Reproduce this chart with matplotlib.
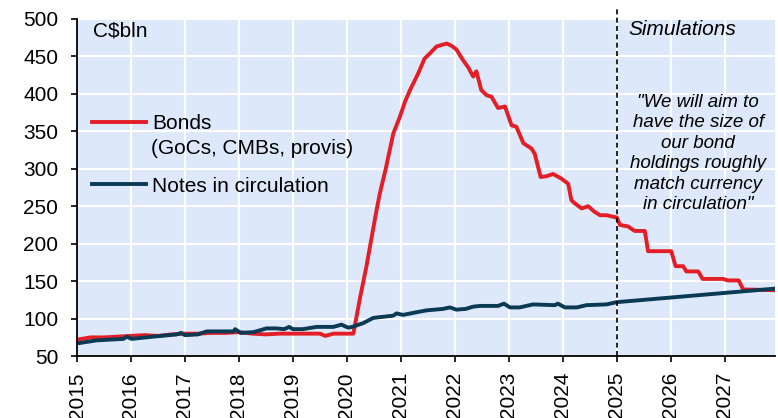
import matplotlib
matplotlib.use("Agg")
import matplotlib.pyplot as plt

plt.rcParams['font.family'] = ['Liberation Sans', 'DejaVu Sans']

# Bank of Canada holdings, C$bln
bond_t = [2015.0, 2015.25, 2015.5, 2015.75, 2016.0, 2016.25, 2016.5, 2016.75, 2017.0, 2017.25,
          2017.5, 2017.75, 2018.0, 2018.25, 2018.5, 2018.75, 2019.0, 2019.25, 2019.5, 2019.6,
          2019.75, 2020.0, 2020.12, 2020.25, 2020.36, 2020.45, 2020.55, 2020.61, 2020.72, 2020.86,
          2020.98, 2021.08, 2021.17, 2021.32, 2021.44, 2021.54, 2021.66, 2021.75, 2021.85, 2021.94,
          2022.03, 2022.15, 2022.25, 2022.34, 2022.40, 2022.49, 2022.59, 2022.68, 2022.80, 2022.93,
          2023.05, 2023.14, 2023.27, 2023.42, 2023.48, 2023.59, 2023.7, 2023.82, 2023.97, 2024.10,
          2024.16, 2024.22, 2024.35, 2024.47, 2024.58, 2024.69, 2024.81, 2024.93, 2025.0, 2025.06,
          2025.21, 2025.33, 2025.52, 2025.58, 2026.01, 2026.09, 2026.23, 2026.29, 2026.51, 2026.59,
          2026.97, 2027.06, 2027.26, 2027.34, 2027.92]
bond_v = [72, 75, 75, 76, 77, 78, 77, 79, 80, 80,
          81, 81, 82, 80, 79, 80, 80, 80, 80, 77,
          80, 80, 80, 130, 169, 205, 245, 267, 300, 347,
          369, 390, 405, 427, 447, 454, 463, 465, 467, 464,
          459, 445, 435, 423, 430, 405, 398, 396, 381, 383,
          358, 356, 334, 327, 320, 289, 290, 293, 287, 280,
          258, 254, 247, 250, 243, 238, 238, 236, 235, 225,
          223, 217, 217, 190, 190, 170, 170, 163, 163, 153,
          153, 151, 151, 139, 138]

note_t = [2015.0, 2015.36, 2015.6, 2015.86, 2015.92, 2016.01, 2016.41, 2016.85, 2016.93, 2017.0,
          2017.24, 2017.40, 2017.90, 2017.93, 2018.03, 2018.27, 2018.51, 2018.69, 2018.84, 2018.93,
          2019.0, 2019.18, 2019.44, 2019.75, 2019.90, 2020.02, 2020.1, 2020.3, 2020.49, 2020.61,
          2020.86, 2020.92, 2021.04, 2021.25, 2021.47, 2021.78, 2021.91, 2022.03, 2022.2, 2022.34,
          2022.47, 2022.80, 2022.91, 2023.02, 2023.2, 2023.45, 2023.85, 2023.91, 2024.04, 2024.26,
          2024.44, 2024.81, 2025.0, 2027.92]
note_v = [67, 71, 72, 73, 76, 73, 76, 79, 81, 78,
          79, 83, 83, 86, 81, 82, 87, 87, 86, 89,
          86, 86, 89, 89, 92, 88, 89, 94, 101, 102,
          104, 107, 105, 108, 111, 113, 115, 112, 113, 116,
          117, 117, 120, 115, 115, 119, 118, 120, 115, 115,
          118, 119, 122, 140]

years = list(range(2015, 2028))
yticks = list(range(50, 501, 50))

red = '#e31e26'
navy = '#0b3a55'

fig = plt.figure(figsize=(7.78, 4.18), dpi=100)
ax = fig.add_axes([0.099, 0.148, 0.897, 0.807])
ax.set_facecolor('#dde9fa')

ax.plot(bond_t, bond_v, color=red, lw=2.8, label='Bonds', solid_joinstyle='round')
ax.plot(note_t, note_v, color=navy, lw=2.8, label='Notes in circulation', solid_joinstyle='round')

ax.axvline(2025, ymin=0, ymax=1.03, color='black', lw=1.2, ls=(0, (3, 2)), clip_on=False, zorder=5)

ax.set_xlim(2015, 2027.93)
ax.set_ylim(50, 500)
ax.set_xticks(years)
ax.set_xticklabels([str(y) for y in years], rotation=90, fontsize=15)
ax.set_yticks(yticks)
ax.tick_params(axis='y', labelsize=15, length=4.5, width=1.2, pad=9)
ax.tick_params(axis='x', length=4.5, width=1.2, pad=7)
ax.grid(True, color='white', lw=1.5)
ax.set_axisbelow(True)
for s in ['top', 'right']:
    ax.spines[s].set_visible(False)
for s in ['left', 'bottom']:
    ax.spines[s].set_linewidth(1.3)

leg = ax.legend(loc='center left', bbox_to_anchor=(0.0215, 0.597), frameon=False,
                fontsize=15, handlelength=2.6, handletextpad=0.3, labelspacing=2.1,
                borderpad=0, borderaxespad=0)
ax.text(0.106, 0.615, '(GoCs, CMBs, provis)', transform=ax.transAxes, fontsize=15,
        va='center', ha='left')

ax.text(0.023, 0.965, 'C$bln', transform=ax.transAxes, fontsize=15, va='center', ha='left')
ax.text(0.79, 0.968, 'Simulations', transform=ax.transAxes, fontsize=15, va='center',
        ha='left', style='italic')
ax.text(0.89, 0.601, '"We will aim to\nhave the size of\nour bond\nholdings roughly\nmatch currency\nin circulation"',
        transform=ax.transAxes, fontsize=13.5, va='center', ha='center', style='italic',
        linespacing=1.27)

fig.savefig('out.png', dpi=100)
